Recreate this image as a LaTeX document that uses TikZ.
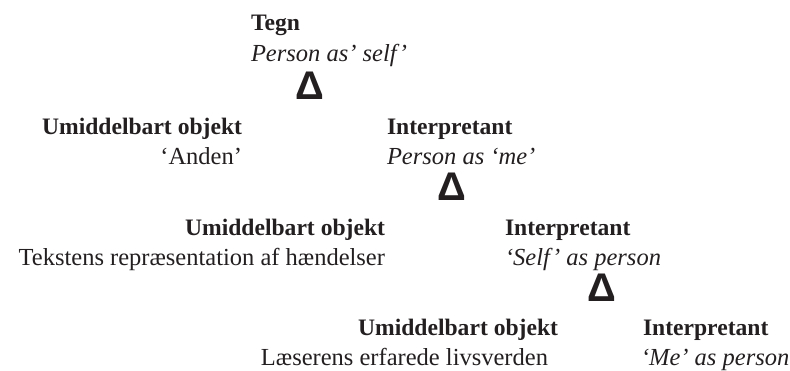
\documentclass[tikz,border=0pt]{standalone}
\usepackage{fontspec}
\setmainfont{Liberation Serif}
\newfontfamily\deltafont{Liberation Sans}
\definecolor{ink}{HTML}{231F20}
\begin{document}
\begin{tikzpicture}[x=1pt,y=-1pt,
  every node/.style={inner sep=0pt,outer sep=0pt,text=ink},
  headlabel/.style={font=\fontsize{23.6}{28}\selectfont\bfseries},
  romanlabel/.style={font=\fontsize{24.5}{29}\selectfont},
  italiclabel/.style={font=\fontsize{24.5}{29}\selectfont\itshape},
  triad/.style={font=\fontsize{40}{44}\selectfont\deltafont\bfseries,anchor=base}]
\useasboundingbox (0,0) rectangle (790,371);

% level 0: the sign
\node[headlabel,anchor=base west] (tegn) at (251,31) {Tegn};
\node[italiclabel,anchor=base west] (tegnval) at (251,62) {Person as’ self’};
\node[triad] (d1) at (310,100) {Δ};

% level 1
\node[headlabel,anchor=base east] (obj1) at (242,135) {Umiddelbart objekt};
\node[romanlabel,anchor=base east] (obj1val) at (242,165) {‘Anden’};
\node[headlabel,anchor=base west] (int1) at (387,135) {Interpretant};
\node[italiclabel,anchor=base west] (int1val) at (387,165) {Person as ‘me’};
\node[triad] (d2) at (452,201) {Δ};

% level 2
\node[headlabel,anchor=base east] (obj2) at (385,236) {Umiddelbart objekt};
\node[romanlabel,anchor=base east] (obj2val) at (385,266) {Tekstens repræsentation af hændelser};
\node[headlabel,anchor=base west] (int2) at (505,236) {Interpretant};
\node[italiclabel,anchor=base west] (int2val) at (505,266) {‘Self’ as person};
\node[triad] (d3) at (602,302) {Δ};

% level 3
\node[headlabel,anchor=base east] (obj3) at (558,336) {Umiddelbart objekt};
\node[romanlabel,anchor=base east] (obj3val) at (548,366) {Læserens erfarede livsverden};
\node[headlabel,anchor=base west] (int3) at (643,336) {Interpretant};
\node[italiclabel,anchor=base west] (int3val) at (641,366) {‘Me’ as person};
\end{tikzpicture}
\end{document}
